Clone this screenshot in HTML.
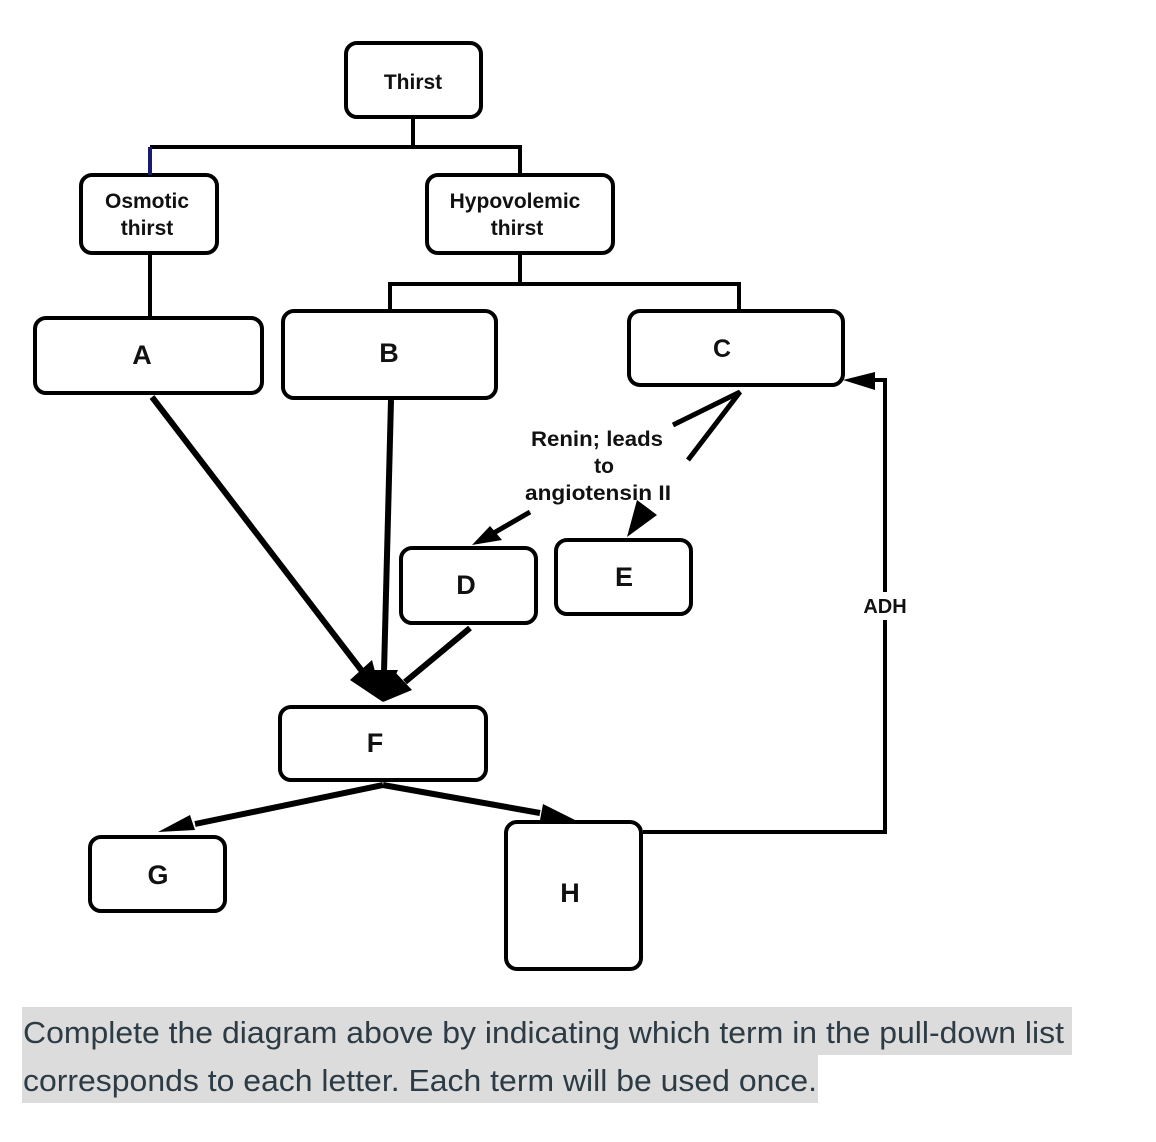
<!DOCTYPE html>
<html><head><meta charset="utf-8"><style>
html,body{margin:0;padding:0;background:#fff;width:1156px;height:1142px;overflow:hidden}
</style></head><body>
<svg width="1156" height="1142" viewBox="0 0 1156 1142" xmlns="http://www.w3.org/2000/svg">
<g fill="#fff" stroke="#000" stroke-width="4">
<rect x="346" y="43" width="135" height="74" rx="11"/>
<rect x="81" y="175" width="136" height="78" rx="11"/>
<rect x="427" y="175" width="186" height="78" rx="11"/>
<rect x="35" y="318" width="227" height="75" rx="11"/>
<rect x="283" y="311" width="213" height="87" rx="11"/>
<rect x="629" y="311" width="214" height="74" rx="11"/>
<rect x="401" y="548" width="135" height="75" rx="11"/>
<rect x="556" y="540" width="135" height="74" rx="11"/>
<rect x="280" y="707" width="206" height="73" rx="11"/>
<rect x="90" y="837" width="135" height="74" rx="11"/>
<rect x="506" y="822" width="135" height="147" rx="11"/>
</g>
<g fill="none" stroke="#000" stroke-width="4">
<path d="M413 117V147H520V175"/>
<path d="M413 147H150"/>
<path d="M150 147V175" stroke="#1a1a6e"/>
<path d="M150 253V318"/>
<path d="M520 253V284H390V311M520 284H739V311"/>
<path d="M643 832H885V380H860"/>
</g>
<g stroke="#000" stroke-width="6" fill="none">
<line x1="152" y1="397" x2="365" y2="675"/>
<line x1="391" y1="400" x2="384" y2="672"/>
<line x1="470" y1="628" x2="405" y2="682"/>
<line x1="383" y1="785" x2="195" y2="824"/>
<line x1="383" y1="785" x2="540" y2="813"/>
</g>
<g fill="#000">
<polygon points="383,702 350,680 372,660"/>
<polygon points="383,702 371,670 398,670"/>
<polygon points="383,702 395,672 412,690"/>
<polygon points="158,832 190,815 195,830"/>
<polygon points="575,820 543,804 540,820"/>
<polygon points="843,380 875,372 875,390"/>
<polygon points="472,545 490,526 502,540"/>
<polygon points="627,537 637,500 657,515"/>
</g>
<line x1="492" y1="534" x2="530" y2="512" stroke="#000" stroke-width="5"/>
<g stroke="#000" stroke-width="5" fill="none">
<path d="M673 425L740 392L688 460"/>
</g>
<rect x="855" y="592" width="60" height="28" fill="#fff"/>
<g font-family="Liberation Sans, Arial, sans-serif" font-weight="bold" fill="#111" text-anchor="middle">
<text x="413" y="89" font-size="21">Thirst</text>
<text x="147" y="208" font-size="21">Osmotic</text>
<text x="147" y="235" font-size="21">thirst</text>
<text x="515" y="208" font-size="21">Hypovolemic</text>
<text x="517" y="235" font-size="21">thirst</text>
<text x="142" y="364" font-size="27">A</text>
<text x="389" y="362" font-size="27">B</text>
<text x="722" y="357" font-size="25">C</text>
<text x="466" y="594" font-size="27">D</text>
<text x="624" y="586" font-size="27">E</text>
<text x="375" y="752" font-size="27">F</text>
<text x="158" y="884" font-size="27">G</text>
<text x="570" y="902" font-size="27">H</text>
<text x="597" y="446" font-size="21" textLength="132" lengthAdjust="spacingAndGlyphs">Renin; leads</text>
<text x="604" y="473" font-size="21">to</text>
<text x="598" y="500" font-size="21" textLength="146" lengthAdjust="spacingAndGlyphs">angiotensin II</text>
<text x="885" y="613" font-size="20">ADH</text>
</g>
<rect x="22" y="1007" width="1050" height="48" fill="#dcdcdc"/>
<rect x="22" y="1055" width="796" height="48" fill="#dcdcdc"/>
<g font-family="Liberation Sans, Arial, sans-serif" font-size="31" fill="#2d3b45">
<text x="23" y="1043" textLength="1041" lengthAdjust="spacingAndGlyphs">Complete the diagram above by indicating which term in the pull-down list</text>
<text x="23" y="1091" textLength="794" lengthAdjust="spacingAndGlyphs">corresponds  to each letter.  Each term will be used once.</text>
</g>
</svg>
</body></html>
